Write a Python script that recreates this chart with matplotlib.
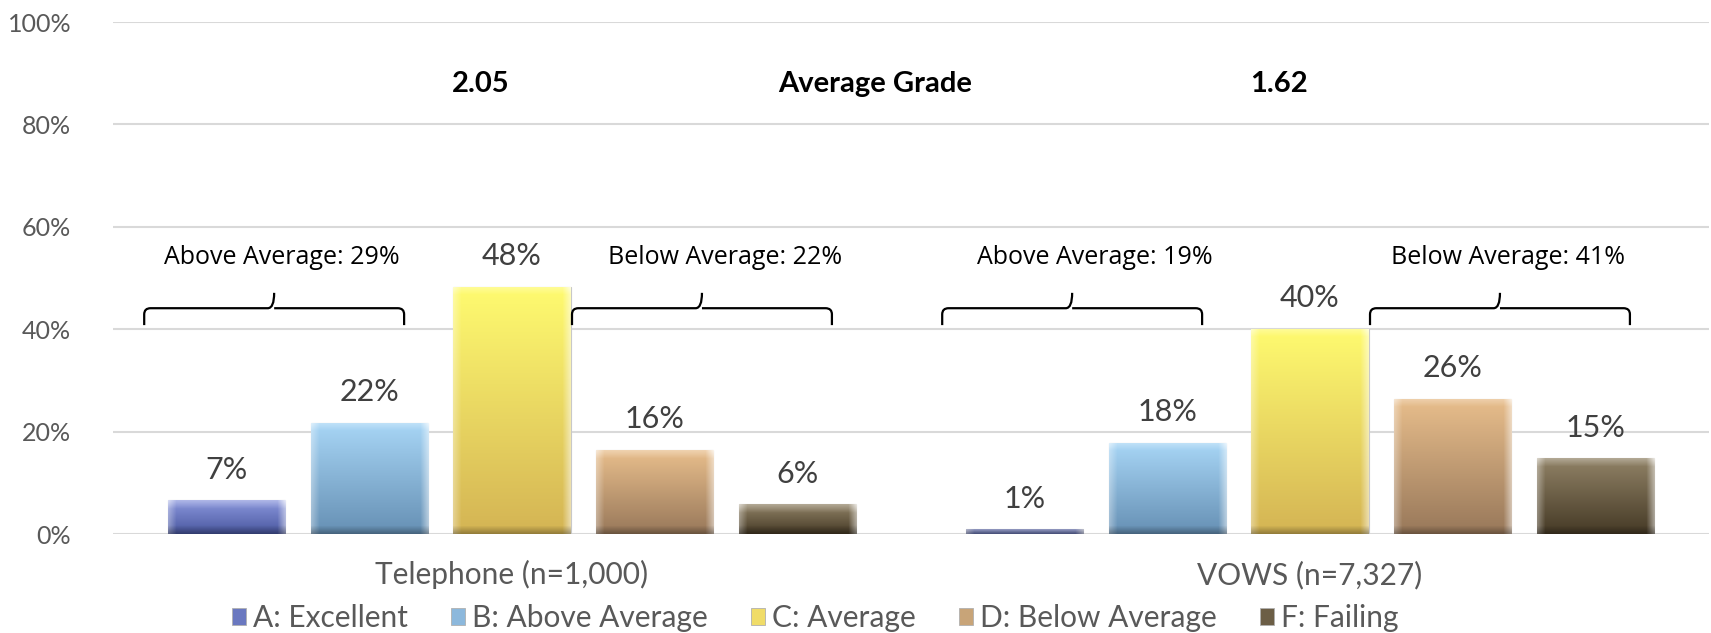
import numpy as np
import matplotlib
matplotlib.use("Agg")
from matplotlib import pyplot as plt
from matplotlib.patches import Patch
from matplotlib.path import Path
from matplotlib.patches import PathPatch

# data
groups = ["Telephone (n=1,000)", "VOWS (n=7,327)"]
grades = ["A: Excellent", "B: Above Average", "C: Average", "D: Below Average", "F: Failing"]
telephone = [6.6, 21.7, 48.3, 16.4, 5.8]
vows = [0.9, 17.8, 40.1, 26.4, 14.8]
avg_grade = ["2.05", "1.62"]
above_avg = [29, 19]
below_avg = [22, 41]

# top / bottom colours of each grade
tops = ["#8a96dc", "#a8d6f6", "#fffb70", "#e8be8c", "#908266"]
bottoms = ["#4a58a0", "#6690b4", "#d4b454", "#98785a", "#463a26"]
mids = ["#6a78c0", "#8cb8dc", "#f0dc68", "#c8a478", "#6c5e46"]

W, H = 1711, 633
fig = plt.figure(figsize=(W / 100, H / 100), dpi=100)
ax = fig.add_axes([113 / W, 1 - 534 / H, (1709 - 113) / W, (534 - 22) / H])

step = 0.1787
width = 0.147
x = np.arange(len(groups))
series = np.array([telephone, vows])


def hex2rgb(h):
    return np.array([int(h[i:i + 2], 16) for i in (1, 3, 5)]) / 255.0


def bevel_image(top, bottom, hpx, wpx=117, b=8):
    hpx = max(int(hpx), 3)
    t = np.linspace(0, 1, hpx)[:, None, None]
    img = hex2rgb(top) * (1 - t) + hex2rgb(bottom) * t
    img = np.repeat(img, wpx, axis=1)
    xs = np.arange(wpx)
    ys = np.arange(hpx)
    edge = np.zeros((hpx, wpx))
    edge[:, xs < b] += 0.35 * (1 - xs[xs < b] / b)
    edge[:, xs >= wpx - b] += 0.5 * (1 - (wpx - 1 - xs[xs >= wpx - b]) / b)
    edge[ys < b, :] += (0.3 * (1 - ys[ys < b] / b))[:, None]
    img = img + (1 - img) * np.clip(edge, 0, 1)[:, :, None]
    dark = np.zeros(hpx)
    dark[ys >= hpx - b] = 0.3 * (1 - (hpx - 1 - ys[ys >= hpx - b]) / b)
    img = img * (1 - dark[:, None, None])
    return np.clip(img, 0, 1)


px_per_pct = 512 / 100
for i, g in enumerate(grades):
    off = (i - 2) * step
    bars = ax.bar(x + off, series[:, i], width, color=mids[i], edgecolor="#c8c8c8",
                  linewidth=0.8, zorder=2)
    for b, v in zip(bars, series[:, i]):
        x0 = b.get_x()
        im = ax.imshow(bevel_image(tops[i], bottoms[i], v * px_per_pct),
                       extent=[x0, x0 + width, 0, v], aspect="auto", zorder=3,
                       interpolation="bilinear")
        im.set_clip_path(b)
        ax.annotate(f"{v:.0f}%", (x0 + width / 2, v), xytext=(0, 22),
                    textcoords="offset points", ha="center", va="center",
                    fontsize=22, color="#404040", family="Lato")


def brace(x0, x1, y=44.1, yend=40.8, ytip=47.1):
    xm = (x0 + x1) / 2
    r = 0.008
    dy = 1.2
    verts = [(x0, yend), (x0, y - dy), (x0, y), (x0 + r, y),
             (xm - r, y), (xm, y), (xm, ytip),
             (xm, y), (xm + r, y),
             (x1 - r, y), (x1, y), (x1, y - dy), (x1, yend)]
    codes = [Path.MOVETO, Path.LINETO, Path.CURVE3, Path.CURVE3,
             Path.LINETO, Path.CURVE3, Path.CURVE3,
             Path.MOVETO, Path.LINETO,
             Path.LINETO, Path.CURVE3, Path.CURVE3, Path.LINETO]
    ax.add_patch(PathPatch(Path(verts, codes), fill=False, lw=1.6,
                           edgecolor="black", zorder=4, capstyle="butt"))


shift = 0.03
above_dx = [0.0096, 0.029]
below_dx = [0.029, 0.0096]
for k in range(len(groups)):
    a0 = k - 2 * step - width / 2 - shift
    a1 = k - step + width / 2 - shift
    d0 = k + step - width / 2 - shift
    d1 = k + 2 * step + width / 2 - shift
    brace(a0, a1)
    brace(d0, d1)
    ax.text((a0 + a1) / 2 + above_dx[k], 54.1, f"Above Average: {above_avg[k]}%",
            ha="center", va="center", fontsize=18, family="Open Sans", color="black")
    ax.text((d0 + d1) / 2 + below_dx[k], 54.1, f"Below Average: {below_avg[k]}%",
            ha="center", va="center", fontsize=18, family="Open Sans", color="black")
    ax.text(k - 0.039, 87.9, avg_grade[k], ha="center", va="center",
            fontsize=21, fontweight="bold", family="Lato")
ax.text(0.455, 87.9, "Average Grade", ha="center", va="center",
        fontsize=21, fontweight="bold", family="Lato")

ax.set_xlim(-0.5, 1.5)
ax.set_ylim(0, 100)
ax.set_yticks(range(0, 101, 20))
ax.set_yticklabels([f"{t}%" for t in range(0, 101, 20)])
ax.set_xticks(x)
ax.set_xticklabels(groups)
ax.yaxis.grid(True, color="#d9d9d9", lw=1.5, zorder=0)
ax.set_axisbelow(True)
for s in ax.spines.values():
    s.set_visible(False)
ax.tick_params(axis="y", length=0, pad=30, labelsize=18, labelcolor="#595959")
ax.tick_params(axis="x", length=0, pad=19, labelsize=21.5, labelcolor="#595959")
for lab in ax.get_xticklabels() + ax.get_yticklabels():
    lab.set_family("Lato")

handles = [Patch(facecolor=mids[i], edgecolor="#b0b0b0", lw=0.6, label=g)
           for i, g in enumerate(grades)]
fig.legend(handles=handles, loc="center", bbox_to_anchor=(815 / W, 1 - 618 / H),
           ncol=5, frameon=False, handlelength=0.48, handleheight=0.48,
           handletextpad=0.22, columnspacing=1.45, borderpad=0,
           prop={"family": "Lato", "size": 21.5}, labelcolor="#595959")

fig.savefig("out.png", dpi=100)
